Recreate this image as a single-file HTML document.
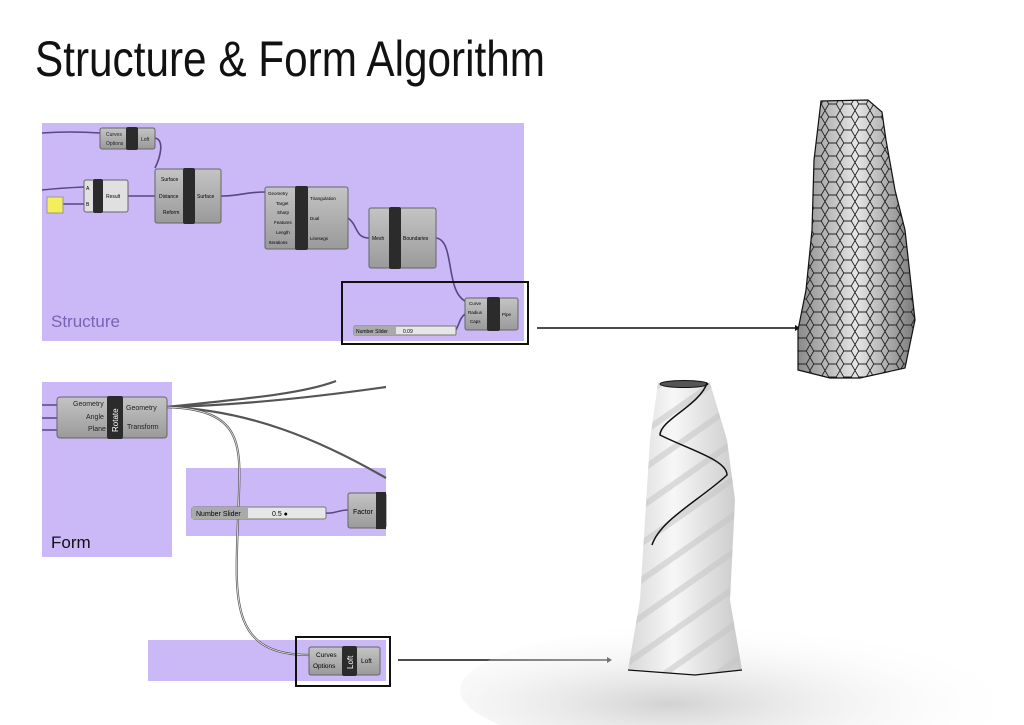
<!DOCTYPE html>
<html><head><meta charset="utf-8"><style>
html,body{margin:0;padding:0;background:#fff;}
svg{display:block;font-family:"Liberation Sans",sans-serif;}
</style></head><body>
<svg width="1024" height="725" viewBox="0 0 1024 725" xmlns="http://www.w3.org/2000/svg">
<defs>
<linearGradient id="ng" x1="0" y1="0" x2="0" y2="1"><stop offset="0" stop-color="#c4c4c4"/><stop offset="1" stop-color="#9a9a9a"/></linearGradient>
<linearGradient id="lat" x1="0" y1="0" x2="1" y2="0"><stop offset="0" stop-color="#8a8a8a"/><stop offset="0.5" stop-color="#e6e6e6"/><stop offset="1" stop-color="#7a7a7a"/></linearGradient>
<pattern id="hex" width="15" height="13" patternUnits="userSpaceOnUse">
<path d="M0 6.5 L3.75 0 L11.25 0 L15 6.5 L11.25 13 L3.75 13 Z" fill="none" stroke="#222" stroke-width="0.9"/>
</pattern>
<linearGradient id="tw" x1="0" y1="0" x2="1" y2="0"><stop offset="0" stop-color="#d8d8d8"/><stop offset="0.4" stop-color="#f7f7f7"/><stop offset="1" stop-color="#c8c8c8"/></linearGradient>
<pattern id="str" width="30" height="30" patternUnits="userSpaceOnUse" patternTransform="rotate(-35)">
<rect width="30" height="6" fill="#c4c4c4" opacity="0.55"/>
</pattern>
<radialGradient id="sh" cx="0.35" cy="0.6" r="0.6"><stop offset="0" stop-color="#d2d2d2"/><stop offset="1" stop-color="#fff" stop-opacity="0"/></radialGradient>
</defs>

<text x="35" y="76" font-size="50" textLength="510" lengthAdjust="spacingAndGlyphs" fill="#111">Structure &amp; Form Algorithm</text>

<rect x="42" y="123" width="482" height="218" fill="#cbb8f7"/>
<text x="51" y="327" font-size="17" fill="#7a62b5">Structure</text>

<g fill="none" stroke="#5a4585" stroke-width="1.6">
<path d="M42 133 Q70 131 100 133"/>
<path d="M155 138 C165 140 160 158 155 168"/>
<path d="M42 190 Q60 188 84 187"/>
<path d="M63 204 L84 204"/>
<path d="M128 196 L155 196"/>
<path d="M221 196 C240 196 245 192 265 192"/>
<path d="M348 218 C358 225 355 238 369 238"/>
<path d="M436 238 C455 240 445 290 465 301"/>
<path d="M456 330 C460 322 460 318 465 314"/>
</g>

<rect x="100" y="128" width="55" height="21" rx="2" fill="url(#ng)" stroke="#666"/>
<rect x="126" y="127" width="12" height="23" rx="2" fill="#2b2b2b"/>
<text x="106" y="136" font-size="5" fill="#222">Curves</text><text x="106" y="145" font-size="5" fill="#222">Options</text>
<text x="141" y="141" font-size="5" fill="#222">Loft</text>
<rect x="84" y="180" width="44" height="32" rx="2" fill="#e0e0e0" stroke="#666"/>
<rect x="93" y="179" width="10" height="34" rx="2" fill="#2b2b2b"/>
<text x="86" y="190" font-size="5">A</text><text x="86" y="206" font-size="5">B</text>
<text x="106" y="198" font-size="5">Result</text>
<rect x="47" y="197" width="16" height="16" fill="#f3ee5a" stroke="#999"/>
<rect x="155" y="169" width="66" height="54" rx="2" fill="url(#ng)" stroke="#666"/>
<rect x="183" y="168" width="12" height="56" rx="2" fill="#2b2b2b"/>
<text x="161" y="181" font-size="5">Surface</text><text x="159" y="198" font-size="5">Distance</text><text x="163" y="214" font-size="5">Reform</text>
<text x="197" y="198" font-size="5">Surface</text>
<rect x="265" y="187" width="83" height="62" rx="2" fill="url(#ng)" stroke="#666"/>
<rect x="295" y="186" width="13" height="64" rx="2" fill="#2b2b2b"/>
<g font-size="4.5"><text x="268" y="195">Geometry</text><text x="276" y="205">Target</text><text x="277" y="214">Sharp</text><text x="274" y="224">Features</text><text x="276" y="234">Length</text><text x="269" y="244">Iterations</text>
<text x="310" y="200">Triangulation</text><text x="310" y="220">Dual</text><text x="310" y="240">Linesegs</text></g>
<rect x="369" y="208" width="67" height="60" rx="2" fill="url(#ng)" stroke="#666"/>
<rect x="389" y="207" width="12" height="62" rx="2" fill="#2b2b2b"/>
<text x="372" y="240" font-size="5">Mesh</text><text x="403" y="240" font-size="5">Boundaries</text>
<rect x="465" y="298" width="53" height="32" rx="2" fill="url(#ng)" stroke="#666"/>
<rect x="487" y="297" width="13" height="34" rx="2" fill="#2b2b2b"/>
<g font-size="4.5"><text x="469" y="305">Curve</text><text x="468" y="314">Radius</text><text x="470" y="323">Caps</text><text x="502" y="316">Pipe</text></g>
<rect x="354" y="326" width="102" height="9" rx="1" fill="#e6e6e6" stroke="#777"/>
<rect x="354" y="326" width="42" height="9" fill="#aaa"/>
<text x="356" y="333" font-size="5">Number Slider</text><text x="403" y="333" font-size="5">0.09</text>
<rect x="342" y="282" width="186" height="62" fill="none" stroke="#111" stroke-width="2"/>
<line x1="537" y1="328" x2="795" y2="328" stroke="#111" stroke-width="1.6"/>
<polygon points="795,325 800,328 795,331" fill="#111"/>

<rect x="42" y="382" width="130" height="175" fill="#cbb8f7"/>
<text x="51" y="548" font-size="17" fill="#111">Form</text>
<rect x="186" y="468" width="200" height="68" fill="#cbb8f7"/>
<rect x="148" y="640" width="238" height="41" fill="#cbb8f7"/>

<g fill="none" stroke="#555" stroke-width="2.2">
<path d="M167 407 C230 400 300 395 336 381"/>
<path d="M167 407 C250 405 330 395 386 387"/>
<path d="M167 407 C250 410 320 440 386 478"/>
<path d="M167 407 C250 410 240 450 238 520 C235 600 230 655 309 655"/>
</g>
<g fill="none" stroke="#eee" stroke-width="0.8">
<path d="M167 407 C250 410 240 450 238 520 C235 600 230 655 309 655"/>
</g>
<path d="M42 405 L57 405 M42 418 L57 418 M42 430 L57 430" stroke="#5a4585" stroke-width="1.5"/>
<rect x="57" y="397" width="110" height="41" rx="3" fill="url(#ng)" stroke="#666"/>
<rect x="107" y="396" width="16" height="43" rx="2" fill="#2b2b2b"/>
<g font-size="7" fill="#222"><text x="73" y="406">Geometry</text><text x="86" y="419">Angle</text><text x="88" y="431">Plane</text><text x="126" y="410">Geometry</text><text x="127" y="429">Transform</text></g>
<text x="118" y="432" font-size="8" fill="#fff" transform="rotate(-90 118 432)">Rotate</text>
<rect x="192" y="507" width="134" height="12" rx="2" fill="#e6e6e6" stroke="#777"/>
<rect x="192" y="507" width="56" height="12" fill="#aaa"/>
<text x="196" y="516" font-size="7">Number Slider</text><text x="272" y="516" font-size="7">0.5 ●</text>
<path d="M326 513 C335 514 338 510 348 510" stroke="#5a4585" fill="none" stroke-width="1.4"/>
<rect x="348" y="493" width="38" height="35" rx="2" fill="url(#ng)" stroke="#666"/>
<rect x="376" y="492" width="10" height="37" fill="#2b2b2b"/>
<text x="353" y="514" font-size="7">Factor</text>
<rect x="309" y="647" width="71" height="28" rx="2" fill="url(#ng)" stroke="#666"/>
<rect x="342" y="646" width="15" height="30" rx="2" fill="#2b2b2b"/>
<g font-size="6.5"><text x="316" y="657">Curves</text><text x="313" y="668">Options</text><text x="361" y="663">Loft</text></g>
<text x="353" y="669" font-size="8" fill="#fff" transform="rotate(-90 353 669)">Loft</text>
<rect x="296" y="637" width="94" height="49" fill="none" stroke="#111" stroke-width="2"/>
<line x1="398" y1="660" x2="607" y2="660" stroke="#111" stroke-width="1.6"/>
<polygon points="607,657 612,660 607,663" fill="#111"/>

<path d="M821 101 L868 100 L882 112 L886 140 L895 190 L905 230 L915 320 L905 368 L860 378 L830 378 L798 370 L798 330 L806 290 L812 230 L814 160 Z" fill="url(#lat)"/>
<path d="M821 101 L868 100 L882 112 L886 140 L895 190 L905 230 L915 320 L905 368 L860 378 L830 378 L798 370 L798 330 L806 290 L812 230 L814 160 Z" fill="url(#hex)" stroke="#111" stroke-width="1.2"/>

<ellipse cx="760" cy="690" rx="300" ry="70" fill="url(#sh)"/>
<path d="M658 383 L710 383 L727 440 L735 500 L730 600 L742 670 L695 675 L628 670 L640 600 L645 520 L650 440 Z" fill="url(#tw)"/>
<path d="M658 383 L710 383 L727 440 L735 500 L730 600 L742 670 L695 675 L628 670 L640 600 L645 520 L650 440 Z" fill="url(#str)"/>
<ellipse cx="684" cy="384" rx="24" ry="3.5" fill="#555" stroke="#111"/>
<path d="M707 383 C700 405 660 420 660 435 C690 450 727 460 727 475 C700 500 660 520 652 545" fill="none" stroke="#111" stroke-width="1.5"/>
<path d="M628 670 L695 675 L742 670" fill="none" stroke="#111" stroke-width="1.2"/>
</svg>
</body></html>
